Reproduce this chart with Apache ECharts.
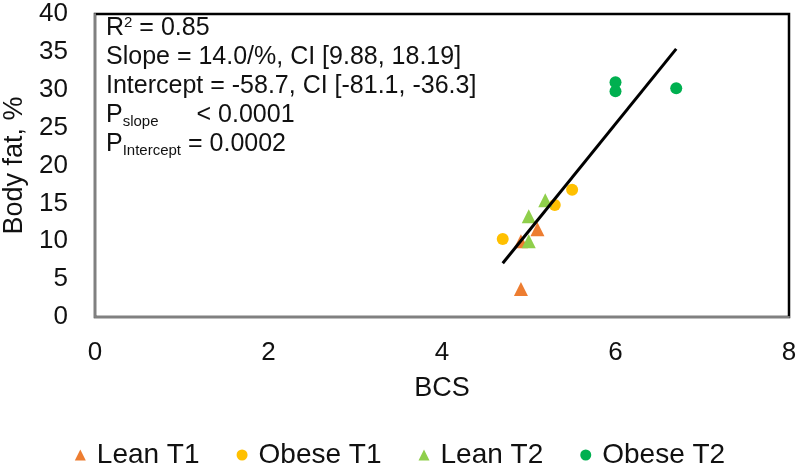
<!DOCTYPE html>
<html>
<head>
<meta charset="utf-8">
<script src="https://cdn.jsdelivr.net/npm/echarts@6/dist/echarts.min.js"></script>
<style>
  html, body { margin: 0; padding: 0; background: #fff; }
  #chart { width: 800px; height: 469px; }
</style>
</head>
<body>
<div id="chart"></div>
<script>
// values, [BCS, body fat %]
const leanT1 = [[4.91, 3.7], [4.91, 10.0], [5.1, 11.6]]
const obeseT1 = [[4.7, 10.3], [5.3, 14.8], [5.5, 16.8]]
const leanT2 = [[5.0, 10.0], [5.0, 13.3], [5.19, 15.4]]
const obeseT2 = [[6.0, 31.0], [6.0, 29.8], [6.7, 30.2]]
const fitLine = [[4.7, 7.1], [6.7, 35.4]]

const xTicks = { min: 0, max: 8, interval: 2 }
const yTicks = { min: 0, max: 40, interval: 5 }

const colors = ['#ED7D31', '#FFC000', '#8FCF4B', '#00B050']
const font = 'Liberation Sans, Arial, sans-serif'

const myChart = echarts.init(document.getElementById('chart'))

const option = {
  animation: false,
  color: colors,
  textStyle: { fontFamily: font },
  grid: {
    left: 95,
    right: 11,
    top: 14,
    bottom: 152,
    outerBoundsMode: 'none',
    containLabel: false,
    show: true,
    borderColor: '#000',
    borderWidth: 2.5,
    backgroundColor: '#fff'
  },
  legend: {
    data: ['Lean T1', 'Obese T1', 'Lean T2', 'Obese T2'],
    left: 'center',
    top: 436,
    itemWidth: 11,
    itemHeight: 11,
    itemGap: 37,
    textStyle: { fontSize: 28, color: '#111', fontFamily: font, padding: [0, 0, 0, 6] }
  },
  xAxis: {
    type: 'value',
    min: xTicks.min,
    max: xTicks.max,
    interval: xTicks.interval,
    name: 'BCS',
    nameLocation: 'middle',
    nameGap: 58,
    nameTextStyle: { fontSize: 27, color: '#111' },
    axisLine: { lineStyle: { color: '#808080', width: 2 } },
    axisTick: { show: false },
    splitLine: { show: false },
    axisLabel: { fontSize: 26, color: '#111', margin: 23 }
  },
  yAxis: {
    type: 'value',
    min: yTicks.min,
    max: yTicks.max,
    interval: yTicks.interval,
    name: 'Body fat, %',
    nameLocation: 'middle',
    nameGap: 67,
    nameTextStyle: { fontSize: 27, color: '#111' },
    axisLine: { show: true, lineStyle: { color: '#808080', width: 2 } },
    axisTick: { show: false },
    splitLine: { show: false },
    axisLabel: { fontSize: 26, color: '#111', margin: 27 }
  },
  graphic: [{
    type: 'text',
    left: 106,
    top: 15,
    style: {
      text: '{t|R}{sup|2}{t| = 0.85}\n' +
        '{t|Slope = 14.0/%, CI [9.88, 18.19]}\n' +
        '{t|Intercept = -58.7, CI [-81.1, -36.3]}\n' +
        '{t|P}{sub|slope}{lt|< 0.0001}\n' +
        '{t|P}{sub|Intercept}{t| = 0.0002}',
      rich: {
        t: { fontSize: 25, lineHeight: 29, fill: '#111', fontFamily: font },
        lt: { fontSize: 25, lineHeight: 29, fill: '#111', fontFamily: font, padding: [0, 0, 0, 38] },
        sup: { fontSize: 15, fill: '#111', fontFamily: font, padding: [0, 0, 12, 0] },
        sub: { fontSize: 15, fill: '#111', fontFamily: font, padding: [12, 0, 0, 0] }
      }
    }
  }],
  series: [
    { name: 'Lean T1', type: 'scatter', symbol: 'triangle', symbolSize: 14, itemStyle: { opacity: 1 }, data: leanT1 },
    { name: 'Obese T1', type: 'scatter', symbol: 'circle', symbolSize: 12, itemStyle: { opacity: 1 }, data: obeseT1 },
    { name: 'Lean T2', type: 'scatter', symbol: 'triangle', symbolSize: 14, itemStyle: { opacity: 1 }, data: leanT2 },
    { name: 'Obese T2', type: 'scatter', symbol: 'circle', symbolSize: 12, itemStyle: { opacity: 1 }, data: obeseT2 },
    {
      name: 'fit',
      type: 'line',
      data: fitLine,
      symbol: 'none',
      z: 5,
      lineStyle: { color: '#000', width: 3 }
    }
  ]
}
myChart.setOption(option)
</script>
</body>
</html>
